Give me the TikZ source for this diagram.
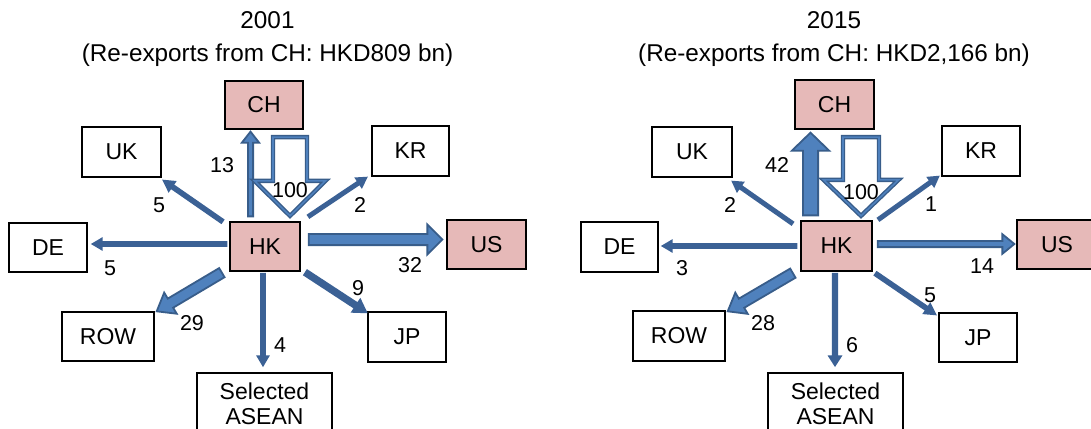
\documentclass[tikz,border=0pt]{standalone}
\usepackage{fontspec}
\setmainfont{Liberation Sans}
\usetikzlibrary{calc}
\definecolor{pinkbox}{HTML}{E6B9B8}
\definecolor{afill}{HTML}{4F81BD}
\definecolor{aline}{HTML}{385D8A}
\definecolor{athin}{HTML}{3B6195}
\tikzset{
  box/.style={draw=black, line width=1.3pt, inner sep=0pt, align=center,
    font=\fontsize{23}{25}\selectfont},
  pbox/.style={box, fill=pinkbox},
  lbl/.style={inner sep=0pt, font=\fontsize{21.5}{24}\selectfont},
  ttl/.style={inner sep=0pt, anchor=base, font=\fontsize{24.3}{28}\selectfont},
  blockarrow/.style={fill=afill, draw=aline, line width=1.8pt, line join=miter},
  thin/.style={fill=athin, draw=athin},
  hollowout/.style={draw=aline, line width=4.4pt, fill=white, line join=miter},
  hollowin/.style={draw=afill, line width=1.6pt, line join=miter},
}
\newcommand\barrow[6][]{%
  \path let \p1=(#2),\p2=(#3) in \pgfextra{%
    \pgfmathsetmacro\baangt{atan2(\y2-\y1,\x2-\x1)}%
    \pgfmathsetmacro\balent{veclen(\x2-\x1,\y2-\y1)}%
    \xdef\baang{\baangt}\xdef\balen{\balent}\xdef\bax{\x1}\xdef\bay{\y1}};
  \draw[blockarrow,#1,shift={(\bax,\bay)},rotate=\baang]
    (0pt,{-#4pt}) -- ({\balen pt-#6pt},{-#4pt}) -- ({\balen pt-#6pt},{-#5pt})
    -- ({\balen pt},0pt) -- ({\balen pt-#6pt},{#5pt}) -- ({\balen pt-#6pt},{#4pt})
    -- (0pt,{#4pt}) -- cycle;
}
\newcommand\hollowarrow[5]{%
  \foreach \hst in {hollowout,hollowin}{
  \draw[\hst] let \p1=(#1),\p2=(#2) in
    ({\x2-#3pt},\y1) -- ({\x2+#3pt},\y1) -- ({\x2+#3pt},{\y2+#5pt})
    -- ({\x2+#4pt},{\y2+#5pt}) -- (\x2,\y2) -- ({\x2-#4pt},{\y2+#5pt})
    -- ({\x2-#3pt},{\y2+#5pt}) -- cycle;}
}
\begin{document}
\begin{tikzpicture}[x=1pt,y=-1pt]
\useasboundingbox (0,0) rectangle (1091,428);
\clip (0,0) rectangle (1091,428);

% ---------------- 2001 ----------------
\node[ttl] (tL1) at (267.5,28.3) {2001};
\node[ttl] (tL2) at (267.5,61.5) {(Re-exports from CH: HKD809 bn)};

\node[pbox, minimum width=78pt, minimum height=48pt] (chL) at (264,105) {CH};
\node[pbox, minimum width=70pt, minimum height=49pt] (hkL) at (265,246.5) {HK};
\node[box, minimum width=79pt, minimum height=50pt] (ukL) at (121.5,152) {UK};
\node[box, minimum width=77pt, minimum height=50pt] (krL) at (410.5,151) {KR};
\node[box, minimum width=78pt, minimum height=49pt] (deL) at (48,247.5) {DE};
\node[pbox, minimum width=79pt, minimum height=49pt] (usL) at (486.5,244.5) {US};
\node[box, minimum width=92pt, minimum height=49pt] (rowL) at (108,336.5) {ROW};
\node[box, minimum width=78pt, minimum height=50pt] (jpL) at (407,337) {JP};
\node[box, minimum width=135pt, minimum height=62pt] (aseanL) at (264.5,404) {Selected\\ASEAN};

\barrow{$(hkL.north)+(-14.5,-5)$}{$(chL.south)+(-13.5,2)$}{2.6}{8.6}{11}
\barrow[thin]{$(hkL.north east)+(8,-5)$}{$(krL.south west)+(-5,1)$}{1.6}{5.3}{9}
\barrow{$(hkL.east)+(8,-7)$}{$(usL.west)+(-4,-5)$}{5.6}{15}{15}
\barrow[thin]{$(hkL.north west)+(-7,0)$}{$(ukL.south east)+(2,3)$}{1.9}{5.6}{10}
\barrow[thin]{$(hkL.west)+(-3,-2.5)$}{$(deL.east)+(5,-3.5)$}{2}{5.3}{9}
\barrow{$(hkL.south west)+(-7.5,1)$}{$(rowL.north east)+(2,0)$}{5.3}{12.3}{16}
\barrow[thin]{$(hkL.south)+(-2,2)$}{$(aseanL.north)+(-1.5,-7)$}{2}{5.3}{9}
\barrow[thin]{$(hkL.south east)+(5,1)$}{$(jpL.north west)+(-1,1)$}{2.8}{7.3}{12}
\hollowarrow{$(chL.south)+(26.5,7.5)$}{$(hkL.north)+(25,-5.5)$}{17}{35.5}{35}

\node[lbl] (nL1) at (222,165) {13};
\node[lbl] (nL2) at (290,190) {100};
\node[lbl] (nL3) at (360,205) {2};
\node[lbl] (nL4) at (410,265) {32};
\node[lbl] (nL5) at (159,205) {5};
\node[lbl] (nL6) at (110,268) {5};
\node[lbl] (nL7) at (192,323) {29};
\node[lbl] (nL8) at (280,345) {4};
\node[lbl] (nL9) at (358,288) {9};

% ---------------- 2015 ----------------
\node[ttl] (tR1) at (834,28.3) {2015};
\node[ttl] (tR2) at (834,61.5) {(Re-exports from CH: HKD2,166 bn)};

\node[pbox, minimum width=79pt, minimum height=49pt] (chR) at (834.5,104.5) {CH};
\node[pbox, minimum width=71pt, minimum height=50pt] (hkR) at (836.5,246) {HK};
\node[box, minimum width=80pt, minimum height=50pt] (ukR) at (692,152) {UK};
\node[box, minimum width=78pt, minimum height=50pt] (krR) at (981,151) {KR};
\node[box, minimum width=77pt, minimum height=50pt] (deR) at (619.5,247) {DE};
\node[pbox, minimum width=80pt, minimum height=49pt] (usR) at (1057,244.5) {US};
\node[box, minimum width=92pt, minimum height=50pt] (rowR) at (679,336) {ROW};
\node[box, minimum width=78pt, minimum height=49pt] (jpR) at (978,337.5) {JP};
\node[box, minimum width=135pt, minimum height=62pt] (aseanR) at (835.5,404) {Selected\\ASEAN};

\barrow{$(hkR.north)+(-26,-5)$}{$(chR.south)+(-24,3)$}{7.6}{18.6}{18}
\barrow[thin]{$(hkR.north east)+(6,-1)$}{$(krR.south west)+(-3,0)$}{1.6}{5.3}{9}
\barrow{$(hkR.east)+(5,-2)$}{$(usR.west)+(-2,-0.5)$}{3.1}{9.8}{12}
\barrow[thin]{$(hkR.south east)+(3,2)$}{$(jpR.north west)+(-3,2)$}{1.9}{5.6}{10}
\barrow[thin]{$(hkR.south)+(-1.5,2)$}{$(aseanR.north)+(-0.5,-7)$}{2.2}{5.8}{9}
\barrow[thin]{$(hkR.north west)+(-8,3)$}{$(ukR.south east)+(0,4)$}{1.6}{5.3}{9}
\barrow[thin]{$(hkR.west)+(-4,0)$}{$(deR.east)+(4,-1)$}{2}{5.3}{9}
\barrow{$(hkR.south west)+(-7.5,1.5)$}{$(rowR.north east)+(2,1)$}{5.3}{12.3}{16}
\hollowarrow{$(chR.south)+(27,7.5)$}{$(hkR.north)+(24.5,-4.5)$}{18}{37.5}{36}

\node[lbl] (nR1) at (777,165) {42};
\node[lbl] (nR2) at (861,192) {100};
\node[lbl] (nR3) at (931,204) {1};
\node[lbl] (nR4) at (982,266) {14};
\node[lbl] (nR5) at (930,295) {5};
\node[lbl] (nR6) at (852,345) {6};
\node[lbl] (nR7) at (730,205) {2};
\node[lbl] (nR8) at (682,268) {3};
\node[lbl] (nR9) at (763,323) {28};
\end{tikzpicture}
\end{document}
